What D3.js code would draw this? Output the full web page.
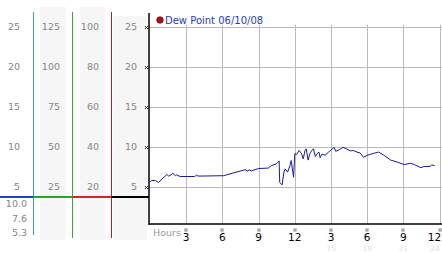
<!DOCTYPE html>
<html>
<head>
<meta charset="utf-8">
<script src="https://cdn.jsdelivr.net/npm/d3@7"></script>
<style>
  body { margin: 0; background: #fff; }
  svg { display: block; }
  text { font-family: "DejaVu Sans", Verdana, sans-serif; }
</style>
</head>
<body>
<svg id="chart" width="442" height="253"></svg>
<script>
// dew point readings, [hour, degrees]
const dewPoint = [
  [0,5.6],[0.15,5.75],[0.45,5.75],[0.7,5.5],[1.0,5.95],[1.4,6.5],[1.55,6.3],[1.7,6.4],[1.9,6.65],[2.1,6.35],
  [2.2,6.45],[2.5,6.25],[3.7,6.25],[3.85,6.4],[4.0,6.3],[6.1,6.35],[6.8,6.65],[7.9,7.1],[8.1,6.9],[8.2,7.1],
  [8.4,6.95],[9.0,7.25],[9.8,7.3],[10.05,7.6],[10.5,7.85],[10.7,8.2],[10.75,5.5],[10.95,5.2],[11.1,6.8],[11.2,7.2],
  [11.4,6.8],[11.6,7.6],[11.7,8.25],[11.9,6.15],[12.0,9.1],[12.15,9.0],[12.35,9.5],[12.55,9.15],[12.7,8.45],[12.85,9.5],
  [12.95,9.7],[13.1,8.3],[13.25,9.1],[13.4,9.5],[13.55,9.7],[13.7,8.75],[13.85,9.1],[14.0,9.3],[14.1,8.6],[14.25,9.05],
  [14.5,8.9],[14.8,9.3],[14.95,9.5],[15.1,9.7],[15.25,9.9],[15.4,9.4],[15.7,9.6],[16.0,9.9],[16.3,9.7],[16.6,9.45],
  [16.85,9.5],[17.15,9.3],[17.4,9.2],[17.7,8.65],[18.0,8.9],[18.55,9.15],[18.95,9.3],[19.4,8.9],[19.95,8.3],[20.5,8.05],
  [21.05,7.75],[21.6,7.9],[21.9,7.75],[22.45,7.35],[22.7,7.5],[23.2,7.5],[23.35,7.7],[23.6,7.6]
];
const legendLabel = "Dew Point 06/10/08";

const yTicks = [25, 20, 15, 10, 5];
const col1Labels = ["25", "20", "15", "10", "5"];
const col2Labels = ["125", "100", "75", "50", "25"];
const col3Labels = ["100", "80", "60", "40", "20"];
const col4Labels = ["25", "20", "15", "10", "5"];
const lowerLabels = ["10.0", "7.6", "5.3"];
const baseLevel = 3.7;

const hourTicks = [3, 6, 9, 12, 15, 18, 21, 24];
const hourLabels = ["3", "6", "9", "12", "3", "6", "9", "12"];
const hourLabels24 = ["", "", "", "", "15", "18", "21", "24"];

const svg = d3.select("#chart");

const x = d3.scaleLinear().domain([0, 24]).range([150, 439.6]);
const y = d3.scaleLinear().domain([0, 25]).range([226.5, 26.5]);
const axisBottomY = 224;

// left scale panels
const panels = [
  {labels: col1Labels, right: 20, bg: null, line: "#3399cc", lineX: 33.5, base: "#1a3fcc", baseFrom: 0},
  {labels: col2Labels, right: 60, bg: [40, 66, 7], line: "#33aa33", lineX: 72.5, base: "#22aa22", baseFrom: 33.5},
  {labels: col3Labels, right: 99, bg: [80, 105, 7], line: "#aa2222", lineX: 111.5, base: "#dd2222", baseFrom: 72.5},
  {labels: col4Labels, right: 137, bg: [114, 147, 16], line: null, lineX: 149, base: "#000", baseFrom: 111.5}
];

panels.forEach(p => {
  if (p.bg) {
    svg.append("rect").attr("x", p.bg[0]).attr("y", p.bg[2])
      .attr("width", p.bg[1] - p.bg[0]).attr("height", 240 - p.bg[2])
      .attr("fill", "#f6f6f6");
  }
});

panels.forEach(p => {
  svg.append("g").selectAll("text").data(p.labels).join("text")
    .attr("x", p.right).attr("y", (d, i) => y(yTicks[i]) + 3)
    .attr("text-anchor", "end").attr("font-size", 9.5).attr("fill", "#858585")
    .text(d => d);
  if (p.line) {
    svg.append("line").attr("x1", p.lineX).attr("x2", p.lineX).attr("y1", 12).attr("y2", p.lineX < 40 ? 235 : 238)
      .attr("stroke", p.line).attr("stroke-width", 1);
  }
});

svg.append("g").selectAll("text").data(lowerLabels).join("text")
  .attr("x", 27).attr("y", (d, i) => y(baseLevel) + 10.5 + i * 14.3)
  .attr("text-anchor", "end").attr("font-size", 9.5).attr("fill", "#858585")
  .text(d => d);

// gridlines
const grid = svg.append("g").attr("stroke", "#bbbbbb").attr("stroke-width", 1);
grid.selectAll(".h").data(yTicks).join("line")
  .attr("x1", 149).attr("x2", 442)
  .attr("y1", d => Math.round(y(d)) + 0.5).attr("y2", d => Math.round(y(d)) + 0.5);
grid.selectAll(".v").data(hourTicks).join("line")
  .attr("x1", d => Math.round(x(d)) + 0.5).attr("x2", d => Math.round(x(d)) + 0.5)
  .attr("y1", 25).attr("y2", axisBottomY);

// coloured base line across the panels
panels.forEach(p => {
  svg.append("line").attr("x1", p.baseFrom).attr("x2", p.lineX)
    .attr("y1", Math.round(y(baseLevel))).attr("y2", Math.round(y(baseLevel)))
    .attr("stroke", p.base).attr("stroke-width", 2);
});

// axes
svg.append("line").attr("x1", 149).attr("x2", 149).attr("y1", 13).attr("y2", axisBottomY + 1)
  .attr("stroke", "#000").attr("stroke-width", 1.5);
svg.append("line").attr("x1", 149).attr("x2", 442).attr("y1", axisBottomY).attr("y2", axisBottomY)
  .attr("stroke", "#000").attr("stroke-width", 1.5);

// tiny dotted markers
function marker(cx, cy) {
  const g = svg.append("g").attr("fill", "#333");
  [[-1, -1], [1, -1], [0, 0], [-1, 1], [1, 1]].forEach(o => {
    g.append("rect").attr("x", cx + o[0]).attr("y", cy + o[1]).attr("width", 1).attr("height", 1);
  });
}
yTicks.forEach(t => marker(146, Math.round(y(t))));
hourTicks.forEach(h => marker(Math.round(x(h)) - 0.5, 229.5));

// hour labels
svg.append("text").attr("x", 153).attr("y", 236).attr("font-size", 9.5).attr("fill", "#999")
  .text("Hours");
svg.append("g").selectAll("text").data(hourTicks).join("text")
  .attr("x", d => Math.min(x(d), 434.5)).attr("y", 240.5)
  .attr("text-anchor", "middle").attr("font-size", 10.5).attr("fill", "#000")
  .text((d, i) => hourLabels[i]);
svg.append("g").selectAll("text").data(hourTicks).join("text")
  .attr("x", d => Math.min(x(d), 435)).attr("y", 251)
  .attr("text-anchor", "middle").attr("font-size", 7.5).attr("fill", "#e2e2e2")
  .text((d, i) => hourLabels24[i]);

// series
svg.append("path").datum(dewPoint)
  .attr("fill", "none").attr("stroke", "#1a1aa0").attr("stroke-width", 1)
  .attr("d", d3.line().x(d => x(d[0])).y(d => y(d[1])));

// legend
svg.append("circle").attr("cx", 160).attr("cy", 20).attr("r", 3.3)
  .attr("fill", "#b01010").attr("stroke", "#500").attr("stroke-width", 0.6);
svg.append("text").attr("x", 165).attr("y", 24).attr("font-size", 10).attr("fill", "#1f3bcc")
  .text(legendLabel);
</script>
</body>
</html>
